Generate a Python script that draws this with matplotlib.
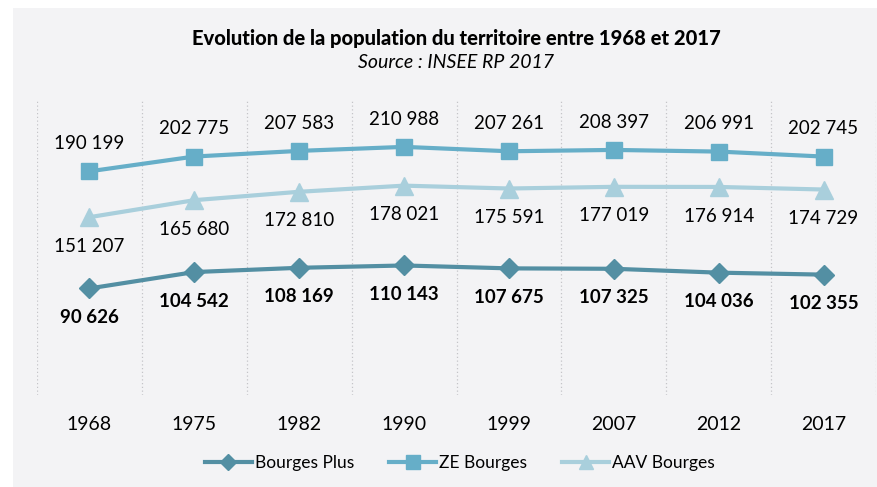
import matplotlib
matplotlib.use("Agg")
import matplotlib.pyplot as plt
from matplotlib.patches import Rectangle

years = ["1968", "1975", "1982", "1990", "1999", "2007", "2012", "2017"]
bourges_plus = [90626, 104542, 108169, 110143, 107675, 107325, 104036, 102355]
ze_bourges = [190199, 202775, 207583, 210988, 207261, 208397, 206991, 202745]
aav_bourges = [151207, 165680, 172810, 178021, 175591, 177019, 176914, 174729]

c_plus = "#538fa3"
c_ze = "#66aec8"
c_aav = "#a9cfdc"
bg = "#f3f3f5"

plt.rcParams["font.family"] = ["Lato", "DejaVu Sans"]


def fmt(v):
    return "{:,}".format(v).replace(",", " ")


fig = plt.figure(figsize=(8.77, 4.87), dpi=100)
fig.patch.set_facecolor("white")
fig.patches.append(Rectangle((13 / 877, 0), 1 - 13 / 877, 1 - 8 / 487,
                             transform=fig.transFigure, facecolor=bg,
                             edgecolor="none", zorder=-10))

ax = fig.add_axes([37 / 877, 92 / 487, 839 / 877, 294 / 487])
ax.set_facecolor(bg)
ax.patch.set_alpha(0)

x = list(range(len(years)))
ax.plot(x, bourges_plus, color=c_plus, lw=3, marker="D", ms=10, label="Bourges Plus")
ax.plot(x, ze_bourges, color=c_ze, lw=3, marker="s", ms=12, label="ZE Bourges")
ax.plot(x, aav_bourges, color=c_aav, lw=3, marker="^", ms=13, label="AAV Bourges")

for i in x:
    ax.annotate(fmt(ze_bourges[i]), (i, ze_bourges[i]), xytext=(0, 20),
                textcoords="offset points", ha="center", va="center", fontsize=13.5)
    ax.annotate(fmt(aav_bourges[i]), (i, aav_bourges[i]), xytext=(0, -21),
                textcoords="offset points", ha="center", va="center", fontsize=13.5)
    ax.annotate(fmt(bourges_plus[i]), (i, bourges_plus[i]), xytext=(0, -21),
                textcoords="offset points", ha="center", va="center", fontsize=13.5,
                fontweight="bold")

ax.set_xlim(-0.5, len(years) - 0.5)
ax.set_ylim(0, 250000)
ax.set_xticks(x)
ax.set_xticklabels(years, fontsize=14)
ax.set_yticks([])
ax.tick_params(axis="x", length=0, pad=15)
for s in ax.spines.values():
    s.set_visible(False)
for b in [i - 0.5 for i in range(len(years) + 1)]:
    ax.axvline(b, color="#c4c4c8", lw=0.9, ls=(0, (1, 2)), zorder=0)

fig.text(456 / 877, 1 - 38 / 487, "Evolution de la population du territoire entre 1968 et 2017",
         ha="center", va="center", fontsize=14.5, fontweight="black")
fig.text(456 / 877, 1 - 62 / 487, "Source : INSEE RP 2017",
         ha="center", va="center", fontsize=14, style="italic")

fig.legend(loc="center", bbox_to_anchor=(460 / 877, 1 - 463 / 487), ncol=3,
           frameon=False, fontsize=12.5, handlelength=2.7, columnspacing=2,
           handletextpad=0.2, markerscale=0.8)

fig.savefig("out.png", dpi=100, facecolor=fig.get_facecolor())
